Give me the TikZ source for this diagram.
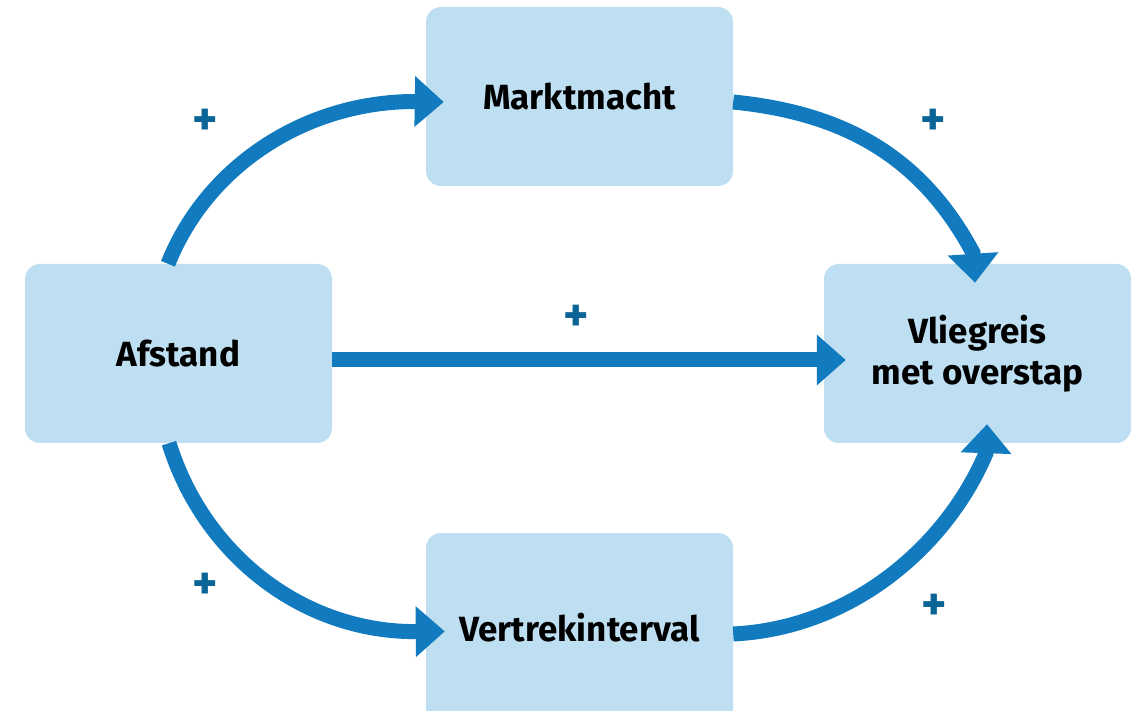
\documentclass[tikz,border=0pt]{standalone}
\usepackage{fontspec}
\setmainfont{Fira Sans}
\usetikzlibrary{arrows.meta}
\definecolor{boxblue}{HTML}{BDDFF1}
\definecolor{arrowblue}{HTML}{127BC0}
\definecolor{plusblue}{HTML}{0B6496}
\tikzset{
  factor/.style={fill=boxblue, rounded corners=15pt, minimum width=307pt,
    minimum height=179pt, align=center, font=\fontsize{35}{41}\selectfont\bfseries},
  effect/.style={draw=arrowblue, line width=15pt,
    -{Triangle[length=29pt, width=49pt]}},
  sign/.style={text=plusblue, font=\fontsize{48}{48}\selectfont\bfseries, inner sep=0pt}
}
\begin{document}
\begin{tikzpicture}[x=1pt, y=1pt]
  \useasboundingbox (0,0) rectangle (1132,710);
  \node (markt) [factor] at (579.5,613.5) {Marktmacht};
  \node (afst) [factor] at (178.5,356.5) {Afstand};
  \node (vlieg) [factor] at (977.5,356.5) {Vliegreis\\met overstap};
  \node (vertrek) [factor, minimum height=190pt] at (579.5,82) {Vertrekinterval};
  % elliptic arcs on the left
  \draw [effect] ([xshift=-10.5pt]afst.north) arc[start angle=159.3, end angle=90, x radius=264, y radius=251]
    -- ([shift={(18,-5.5)}]markt.west);
  \draw [effect] ([xshift=-9.5pt]afst.south) arc[start angle=198.2, end angle=270, x radius=259, y radius=274]
    -- ([shift={(19,-3.4)}]vertrek.west);
  % curves on the right
  \draw [effect] ([yshift=-5.5pt]markt.east) .. controls +(110,-11) and +(-52,97) .. ([shift={(-4.5,11)}]vlieg.north)
    -- ([shift={(-2.5,-19)}]vlieg.north);
  \draw [effect] ([yshift=-6pt]vertrek.east) .. controls +(120,6) and +(-39,-92) .. ([shift={(8.5,-10)}]vlieg.south)
    -- ([shift={(9.5,19)}]vlieg.south);
  \draw [effect] ([yshift=-6.5pt]afst.east) -- ([shift={(22,-6.5)}]vlieg.west);
  \node (p1) [sign] at (205,588) {+};
  \node (p2) [sign] at (933,588) {+};
  \node (p3) [sign] at (576,392) {+};
  \node (p4) [sign] at (205,124) {+};
  \node (p5) [sign] at (934,103) {+};
\end{tikzpicture}
\end{document}
